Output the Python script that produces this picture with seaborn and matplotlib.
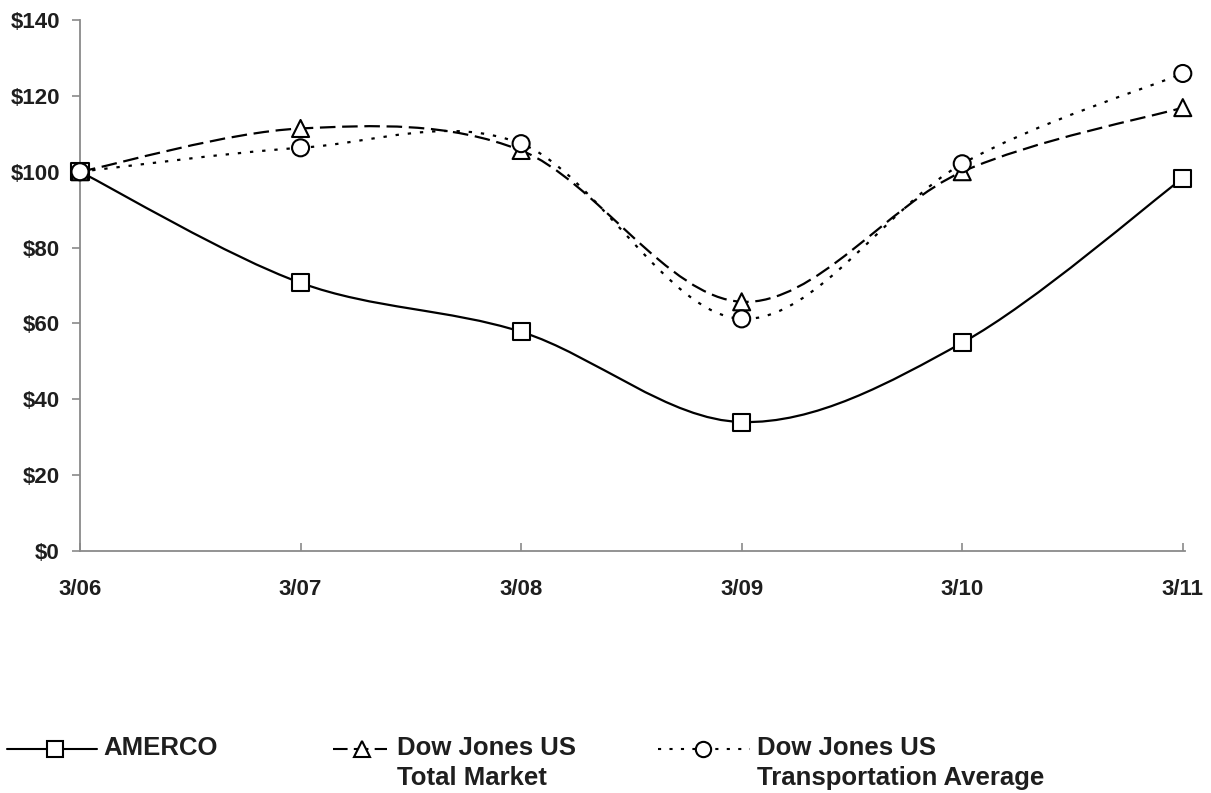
import numpy as np
import pandas as pd
import matplotlib
matplotlib.use("Agg")
import matplotlib.pyplot as plt
from matplotlib.path import Path
from matplotlib.patches import PathPatch
from matplotlib.lines import Line2D
import seaborn as sns

# Data
years = ["3/06", "3/07", "3/08", "3/09", "3/10", "3/11"]
amerco = [100, 70.7, 57.8, 34.0, 54.9, 98.3]
total_market = [100, 111.4, 105.6, 65.7, 100.0, 116.9]
transport = [100, 106.3, 107.4, 61.2, 102.1, 125.9]

series_names = ["AMERCO", "Dow Jones US\nTotal Market", "Dow Jones US\nTransportation Average"]
series_values = [amerco, total_market, transport]
markers = ["s", "^", "o"]
dashes = [None, (7, 3), (1.5, 4)]

df = pd.DataFrame({
    "x": np.tile(np.arange(len(years)), 3),
    "value": amerco + total_market + transport,
    "series": np.repeat(series_names, len(years)),
})

sns.set_theme(style="white")
plt.rcParams["font.family"] = ["Liberation Sans", "DejaVu Sans"]

W, H = 1211, 793
fig = plt.figure(figsize=(W / 100, H / 100), dpi=100)
ax = fig.add_axes([80 / W, 1 - 551 / H, 1105 / W, 531 / H])


def smooth_path(xs, ys):
    # Excel-style smoothed line: cubic Bezier through each point
    pts = np.column_stack([xs, ys]).astype(float)
    ext = np.vstack([pts[0], pts, pts[-1]])
    verts = [pts[0]]
    codes = [Path.MOVETO]
    for i in range(len(pts) - 1):
        p0, p1, p2, p3 = ext[i], ext[i + 1], ext[i + 2], ext[i + 3]
        verts += [p1 + (p2 - p0) / 6.0, p2 - (p3 - p1) / 6.0, p2]
        codes += [Path.CURVE4] * 3
    return Path(verts, codes)


LW = 1.6
for vals, dash in zip(series_values, dashes):
    patch = PathPatch(smooth_path(np.arange(len(years)), vals), facecolor="none",
                      edgecolor="black", lw=LW, zorder=2,
                      linestyle="-" if dash is None else (0, dash))
    ax.add_patch(patch)

sns.scatterplot(data=df, x="x", y="value", style="series", markers=markers,
                s=150, facecolor="white", edgecolor="black", linewidth=1.5,
                legend=False, ax=ax, zorder=3, clip_on=False)

ax.set_xlim(0, 5.01)
ax.set_ylim(0, 140)
ax.set_xticks(range(len(years)))
ax.set_xticklabels(years)
ax.set_yticks(range(0, 141, 20))
ax.set_yticklabels([f"${v}" for v in range(0, 141, 20)])
ax.set_xlabel("")
ax.set_ylabel("")

for s in ["top", "right"]:
    ax.spines[s].set_visible(False)
for s in ["left", "bottom"]:
    ax.spines[s].set_color("#8a8a8a")
    ax.spines[s].set_linewidth(1.3)

ax.tick_params(axis="y", direction="out", length=6, width=1.2, color="#8a8a8a",
               labelsize=16, pad=8.5, left=True)
ax.tick_params(axis="x", direction="in", length=6, width=1.2, color="#8a8a8a",
               labelsize=16, pad=20, bottom=True)
for lbl in ax.get_xticklabels() + ax.get_yticklabels():
    lbl.set_fontweight("bold")
    lbl.set_color("#1e1e1e")

# legend along the bottom, laid out in figure pixels
legend_items = [
    (7, 97, 55, 103),
    (333, 387, 362, 397),
    (658, 750, 703, 757),
]
y_handle = 1 - 749 / H
for (x0, x1, xm, xt), name, m, dash in zip(legend_items, series_names, markers, dashes):
    fig.add_artist(Line2D([x0 / W, x1 / W], [y_handle, y_handle], transform=fig.transFigure,
                          color="black", lw=1.5, linestyle="-" if dash is None else (0, dash)))
    fig.add_artist(Line2D([xm / W], [y_handle], transform=fig.transFigure, marker=m,
                          markersize=11, markerfacecolor="white", markeredgecolor="black",
                          markeredgewidth=1.5, linestyle="none"))
    fig.text(xt / W, 1 - 736 / H, name, ha="left", va="top", fontsize=18.5,
             fontweight="bold", color="#1e1e1e", linespacing=1.33)

fig.savefig("out.png", dpi=100)
